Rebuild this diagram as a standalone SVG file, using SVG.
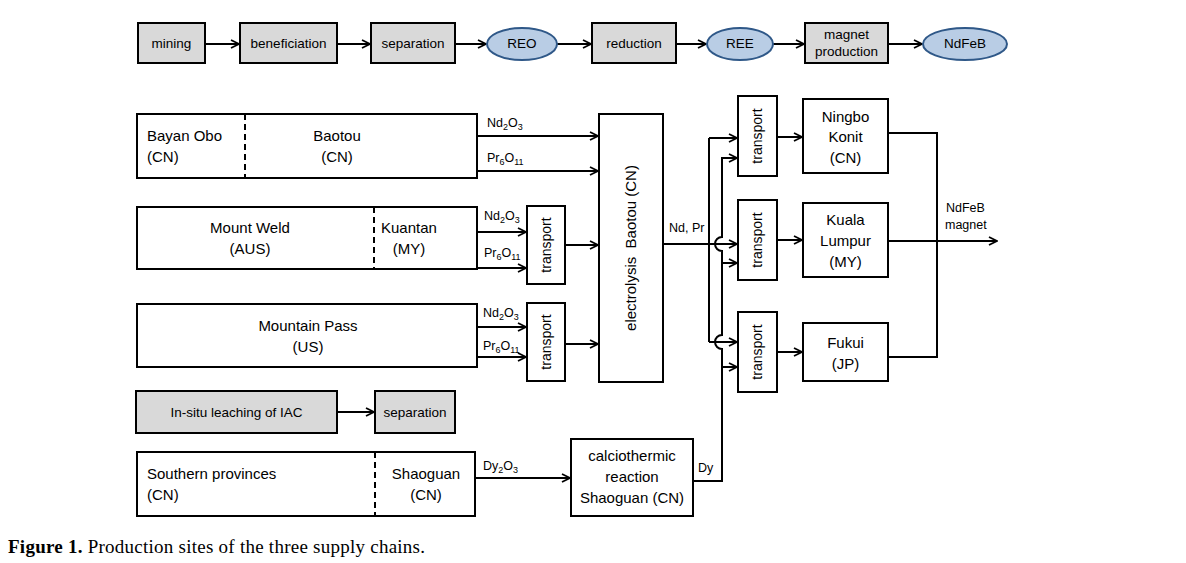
<svg xmlns="http://www.w3.org/2000/svg" width="1186" height="563" viewBox="0 0 1186 563">
<style>
.box{fill:#fff;stroke:#000;stroke-width:2}
.grey{fill:#d9d9d9;stroke:#000;stroke-width:2}
.ell{fill:#b9cde5;stroke:#2f5888;stroke-width:2}
.dash{stroke:#000;stroke-width:2;stroke-dasharray:6,4;fill:none}
.ln{stroke:#000;stroke-width:2;fill:none}
.arr{stroke:#000;stroke-width:2;fill:none;marker-end:url(#ah)}
text{font-family:"Liberation Sans",Arial,sans-serif;fill:#000}
.t{font-size:15px}
.c{text-anchor:middle}
.s{font-size:13.5px}
.tr{font-size:14px}
.l{font-size:12.5px}
.cap{font-family:"Liberation Serif","Times New Roman",serif;font-size:19px}
</style>
<defs>
<marker id="ah" viewBox="0 0 10 10" refX="9" refY="5" markerWidth="10" markerHeight="10" markerUnits="userSpaceOnUse" orient="auto">
<path d="M1,1 L9,5 L1,9" fill="none" stroke="#000" stroke-width="1.8"/>
</marker>
</defs>

<g id="connectors">
<path class="arr" d="M205,44 H239"/>
<path class="arr" d="M337,44 H370"/>
<path class="arr" d="M455,44 H486"/>
<path class="arr" d="M557,44 H591"/>
<path class="arr" d="M676,44 H706"/>
<path class="arr" d="M773,44 H804"/>
<path class="arr" d="M888,44 H922"/>

<path class="arr" d="M477,136 H598"/>
<path class="arr" d="M477,171 H598"/>
<path class="arr" d="M477,232 H526"/>
<path class="arr" d="M477,268 H526"/>
<path class="arr" d="M477,327 H526"/>
<path class="arr" d="M477,357 H526"/>
<path class="arr" d="M565,245 H598"/>
<path class="arr" d="M565,344 H598"/>

<path class="arr" d="M337,412 H374"/>
<path class="arr" d="M475,478 H570"/>

<path class="arr" d="M663,244 H737"/>
<path class="ln" d="M709,138 V342"/>
<path class="arr" d="M709,138 H737"/>
<path class="arr" d="M709,342 H737"/>

<path class="ln" d="M693,481 H722 V349 A7,7 0 0,1 722,335 V251 A7,7 0 0,1 722,237 V158"/>
<path class="arr" d="M721,158 H737"/>
<path class="arr" d="M722,263 H737"/>
<path class="arr" d="M722,367 H737"/>

<path class="arr" d="M777,137 H802"/>
<path class="arr" d="M777,240 H802"/>
<path class="arr" d="M777,352 H802"/>

<path class="ln" d="M888,133 H937 V357 H888"/>
<path class="arr" d="M888,241 H997"/>

<text class="l" x="487" y="127">Nd<tspan font-size="9" dy="3">2</tspan><tspan dy="-3">O</tspan><tspan font-size="9" dy="3">3</tspan></text>
<text class="l" x="487" y="162">Pr<tspan font-size="9" dy="3">6</tspan><tspan dy="-3">O</tspan><tspan font-size="9" dy="3">11</tspan></text>
<text class="l" x="484" y="220">Nd<tspan font-size="9" dy="3">2</tspan><tspan dy="-3">O</tspan><tspan font-size="9" dy="3">3</tspan></text>
<text class="l" x="484" y="257">Pr<tspan font-size="9" dy="3">6</tspan><tspan dy="-3">O</tspan><tspan font-size="9" dy="3">11</tspan></text>
<text class="l" x="483" y="317">Nd<tspan font-size="9" dy="3">2</tspan><tspan dy="-3">O</tspan><tspan font-size="9" dy="3">3</tspan></text>
<text class="l" x="483" y="350">Pr<tspan font-size="9" dy="3">6</tspan><tspan dy="-3">O</tspan><tspan font-size="9" dy="3">11</tspan></text>
<text class="l" x="483" y="470">Dy<tspan font-size="9" dy="3">2</tspan><tspan dy="-3">O</tspan><tspan font-size="9" dy="3">3</tspan></text>
<text class="l" x="669" y="232">Nd, Pr</text>
<text class="l" x="698" y="472">Dy</text>
<text class="l" x="946" y="212">NdFeB</text>
<text class="l" x="945" y="229">magnet</text>
</g>

<g id="mining"><rect class="grey" x="138" y="23" width="67" height="40"/><text class="s c" x="171.5" y="48">mining</text></g>
<g id="beneficiation"><rect class="grey" x="240" y="23" width="97" height="40"/><text class="s c" x="288.5" y="48">beneficiation</text></g>
<g id="separation-top"><rect class="grey" x="371" y="23" width="84" height="40"/><text class="s c" x="413" y="48">separation</text></g>
<g id="reo"><ellipse class="ell" cx="522" cy="44" rx="35" ry="16"/><text class="s c" x="522" y="48">REO</text></g>
<g id="reduction"><rect class="grey" x="592" y="23" width="84" height="40"/><text class="s c" x="634" y="48">reduction</text></g>
<g id="ree"><ellipse class="ell" cx="740" cy="44" rx="33" ry="16"/><text class="s c" x="740" y="48">REE</text></g>
<g id="magnet-production"><rect class="grey" x="805" y="23" width="83" height="40"/><text class="s c" x="846.5" y="39">magnet</text><text class="s c" x="846.5" y="56">production</text></g>
<g id="ndfeb"><ellipse class="ell" cx="965" cy="44" rx="42" ry="16"/><text class="s c" x="965" y="48">NdFeB</text></g>

<g id="bayan-obo"><rect class="box" x="137" y="114" width="340" height="64"/><line class="dash" x1="245" y1="114" x2="245" y2="178"/>
<text class="t" x="147" y="141">Bayan Obo</text><text class="t" x="147" y="162">(CN)</text>
<text class="t c" x="337" y="141">Baotou</text><text class="t c" x="337" y="162">(CN)</text></g>

<g id="mount-weld"><rect class="box" x="137" y="207" width="340" height="62"/><line class="dash" x1="374" y1="207" x2="374" y2="269"/>
<text class="t c" x="250" y="233">Mount Weld</text><text class="t c" x="250" y="254">(AUS)</text>
<text class="t" x="381" y="233">Kuantan</text><text class="t c" x="409" y="254">(MY)</text></g>

<g id="mountain-pass"><rect class="box" x="137" y="304" width="340" height="63"/>
<text class="t c" x="308" y="331">Mountain Pass</text><text class="t c" x="308" y="352">(US)</text></g>

<g id="in-situ"><rect class="grey" x="136" y="391" width="201" height="42"/><text class="s c" x="236.5" y="417">In-situ leaching of IAC</text></g>
<g id="separation-iac"><rect class="grey" x="375" y="391" width="80" height="42"/><text class="s c" x="415" y="417">separation</text></g>

<g id="southern"><rect class="box" x="137" y="452" width="338" height="64"/><line class="dash" x1="375" y1="452" x2="375" y2="516"/>
<text class="t" x="147" y="479">Southern provinces</text><text class="t" x="147" y="500">(CN)</text>
<text class="t c" x="426" y="479">Shaoguan</text><text class="t c" x="426" y="500">(CN)</text></g>

<g id="transport-mw"><rect class="box" x="527" y="206" width="38" height="78"/><text class="tr c" transform="translate(551,245) rotate(-90)">transport</text></g>
<g id="transport-mp"><rect class="box" x="527" y="303" width="38" height="78"/><text class="tr c" transform="translate(551,342) rotate(-90)">transport</text></g>

<g id="electrolysis"><rect class="box" x="599" y="114" width="64" height="268"/><text class="t c" xml:space="preserve" transform="translate(636,248) rotate(-90)">electrolysis  Baotou (CN)</text></g>

<g id="calciothermic"><rect class="box" x="571" y="439" width="122" height="77"/>
<text class="t c" x="632" y="461">calciothermic</text><text class="t c" x="632" y="482">reaction</text><text class="t c" x="632" y="503">Shaoguan (CN)</text></g>

<g id="transport-1"><rect class="box" x="738" y="96" width="39" height="80"/><text class="tr c" transform="translate(762,136) rotate(-90)">transport</text></g>
<g id="transport-2"><rect class="box" x="738" y="200" width="39" height="80"/><text class="tr c" transform="translate(762,240) rotate(-90)">transport</text></g>
<g id="transport-3"><rect class="box" x="738" y="312" width="39" height="80"/><text class="tr c" transform="translate(762,352) rotate(-90)">transport</text></g>

<g id="ningbo"><rect class="box" x="803" y="99" width="85" height="74"/>
<text class="t c" x="845.5" y="122">Ningbo</text><text class="t c" x="845.5" y="142">Konit</text><text class="t c" x="845.5" y="163">(CN)</text></g>
<g id="kuala-lumpur"><rect class="box" x="803" y="203" width="85" height="74"/>
<text class="t c" x="845.5" y="225">Kuala</text><text class="t c" x="845.5" y="246">Lumpur</text><text class="t c" x="845.5" y="267">(MY)</text></g>
<g id="fukui"><rect class="box" x="803" y="323" width="85" height="58"/>
<text class="t c" x="845.5" y="348">Fukui</text><text class="t c" x="845.5" y="369">(JP)</text></g>

<text class="cap" x="8" y="553" textLength="417" lengthAdjust="spacing"><tspan font-weight="bold">Figure 1.</tspan> Production sites of the three supply chains.</text>
</svg>
